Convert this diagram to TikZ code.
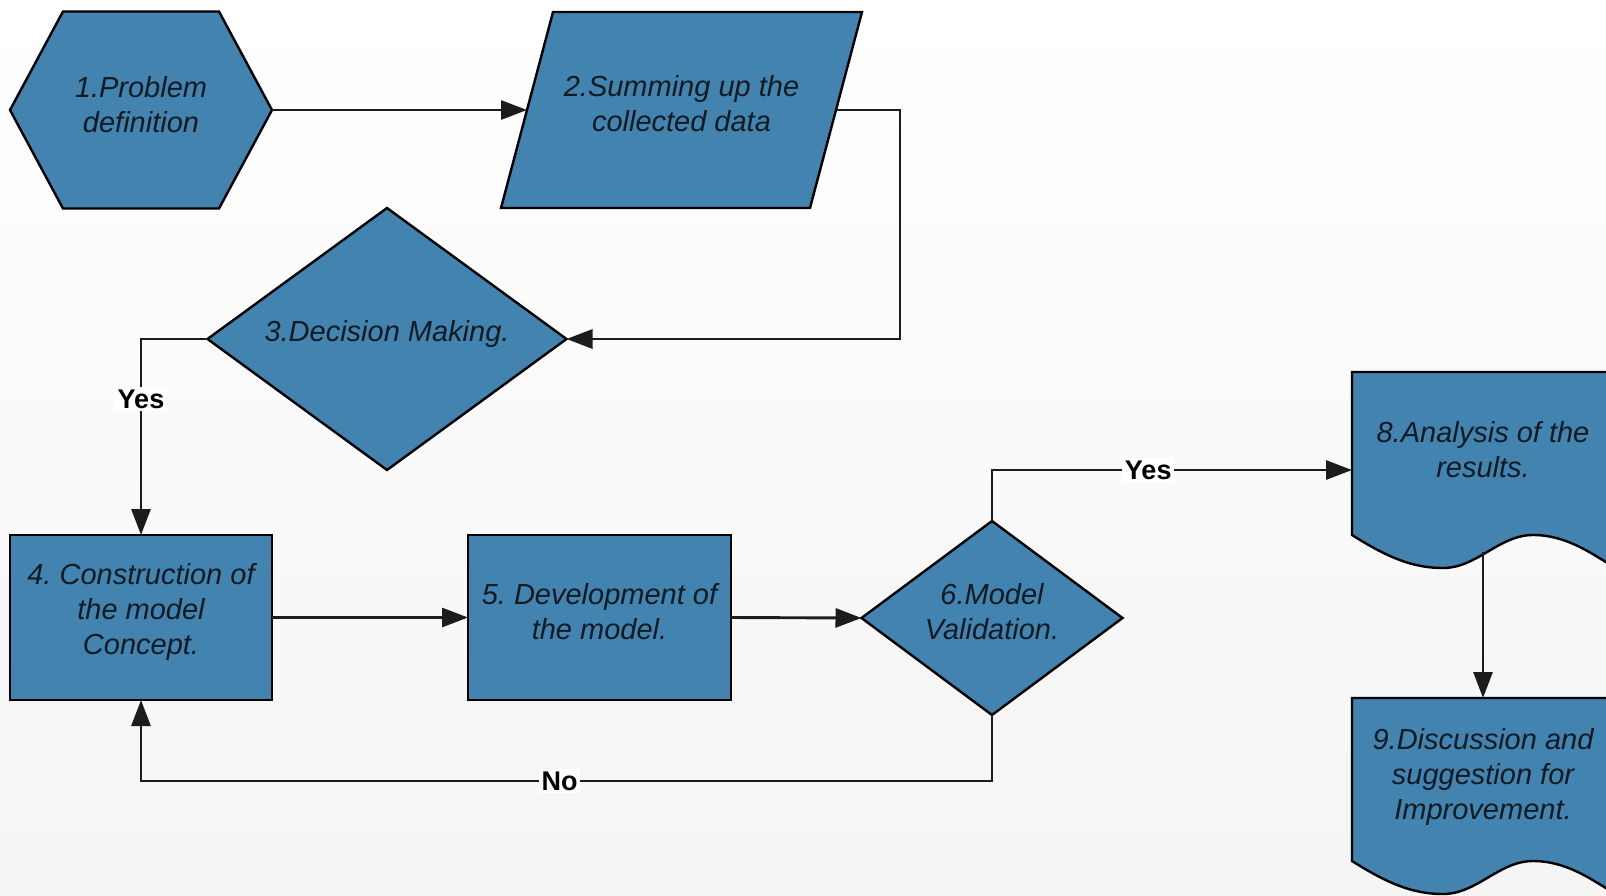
\documentclass[tikz,border=0pt]{standalone}
\usepackage{fontspec}
\setmainfont{Liberation Sans}
\frenchspacing
\usetikzlibrary{shapes.geometric,arrows.meta}
\definecolor{boxblue}{RGB}{66,131,175}
\definecolor{inkdark}{RGB}{18,26,34}
\definecolor{linedark}{RGB}{28,28,28}

% document symbol: flat top, wavy bottom, drawn from the frame node's corner
\newcommand{\docshape}[1]{%
  \begin{scope}[shift={(#1.north west)}]
    \draw[outline] (0,0) -- (262,0) -- (262,195)
      .. controls (240,182) and (215,163) .. (181,163)
      .. controls (147,163) and (125,196) .. (91,196)
      .. controls (60,196) and (35,185) .. (0,163) -- cycle;
  \end{scope}}

\begin{document}
\begin{tikzpicture}[x=1pt,y=-1pt,
  outline/.style={draw=black, line width=2.4pt, fill=boxblue, line join=miter},
  frame/.style={inner sep=0pt, outer sep=0pt, draw=none},
  boxrect/.style={outline, rectangle, inner sep=0pt, outer sep=0pt},
  decision/.style={outline, diamond, inner sep=0pt, outer sep=0pt},
  txt/.style={align=center, text=inkdark, font=\itshape\fontsize{29}{35}\selectfont, inner sep=0pt},
  flow/.style={draw=linedark, line width=2.9pt, -{Triangle[length=26pt,width=19pt]}},
  tag/.style={fill=white, text=black, font=\bfseries\fontsize{27}{30}\selectfont, inner sep=2.5pt}
]
\useasboundingbox (0,0) rectangle (1606,895);
\shade[top color=white, bottom color=black!4] (0,0) rectangle (1606,895);
\clip (0,0) rectangle (1606,895);

% 1: hexagon
\node[frame, minimum width=262pt, minimum height=197pt] (n1) at (141,110) {};
\draw[outline] (n1.west) -- ([xshift=53pt]n1.north west) -- ([xshift=-53pt]n1.north east)
  -- (n1.east) -- ([xshift=-53pt]n1.south east) -- ([xshift=53pt]n1.south west) -- cycle;
\node[txt] (t1) at ([yshift=5pt]n1.center) {1.Problem\\definition};

% 2: parallelogram
\node[frame, minimum width=309pt, minimum height=196pt] (n2) at (681.5,110) {};
\draw[outline] ([xshift=26pt]n2.north west) -- ([xshift=26pt]n2.north east)
  -- ([xshift=-26pt]n2.south east) -- ([xshift=-26pt]n2.south west) -- cycle;
\node[txt] (t2) at ([yshift=6pt]n2.center) {2.Summing up the\\collected data};

% 3: decision
\node[decision, minimum width=359pt, minimum height=262pt] (n3) at (387,339) {};
\node[txt] (t3) at ([yshift=5pt]n3.center) {3.Decision Making.};

% 4 and 5: process boxes
\node[boxrect, minimum width=262pt, minimum height=165pt] (n4) at (141,617.5) {};
\node[txt] (t4) at ([yshift=5.5pt]n4.center) {4. Construction of\\the model\\Concept.};
\node[boxrect, minimum width=263pt, minimum height=165pt] (n5) at (599.5,617.5) {};
\node[txt] (t5) at ([yshift=6pt]n5.center) {5. Development of\\the model.};

% 6: validation decision
\node[decision, minimum width=261pt, minimum height=194pt] (n6) at (992,618) {};
\node[txt] (t6) at ([yshift=6.5pt]n6.center) {6.Model\\Validation.};

% 8 and 9: documents
\node[frame, minimum width=262pt, minimum height=196pt] (n8) at (1483,470) {};
\docshape{n8}
\node[txt] (t8) at ([yshift=20pt]n8.center) {8.Analysis of the\\results.};
\node[frame, minimum width=262pt, minimum height=196pt] (n9) at (1483,796) {};
\docshape{n9}
\node[txt] (t9) at ([yshift=19pt]n9.center) {9.Discussion and\\suggestion for\\Improvement.};

% connectors
\draw[flow] (n1.east) -- (n2.west);
\draw[flow] (n2.east) -- ++(64,0) |- (n3.east);
\draw[flow] (n3.west) -| node[tag, pos=0.654] (yes1) {Yes} (n4.north);
\draw[flow] (n4.east) -- (n5.west);
\draw[flow] (n5.east) -- (n6.west);
\draw[flow] (n6.north) |- node[tag, pos=0.717] (yes2) {Yes} (n8.west);
\draw[flow] (n6.south) -- ++(0,66) -| node[tag, pos=0.254] (no) {No} (n4.south);
\coordinate (w8) at ([yshift=16pt]n8.south);
\draw[flow] (w8) -- (n9.north);
\end{tikzpicture}
\end{document}
